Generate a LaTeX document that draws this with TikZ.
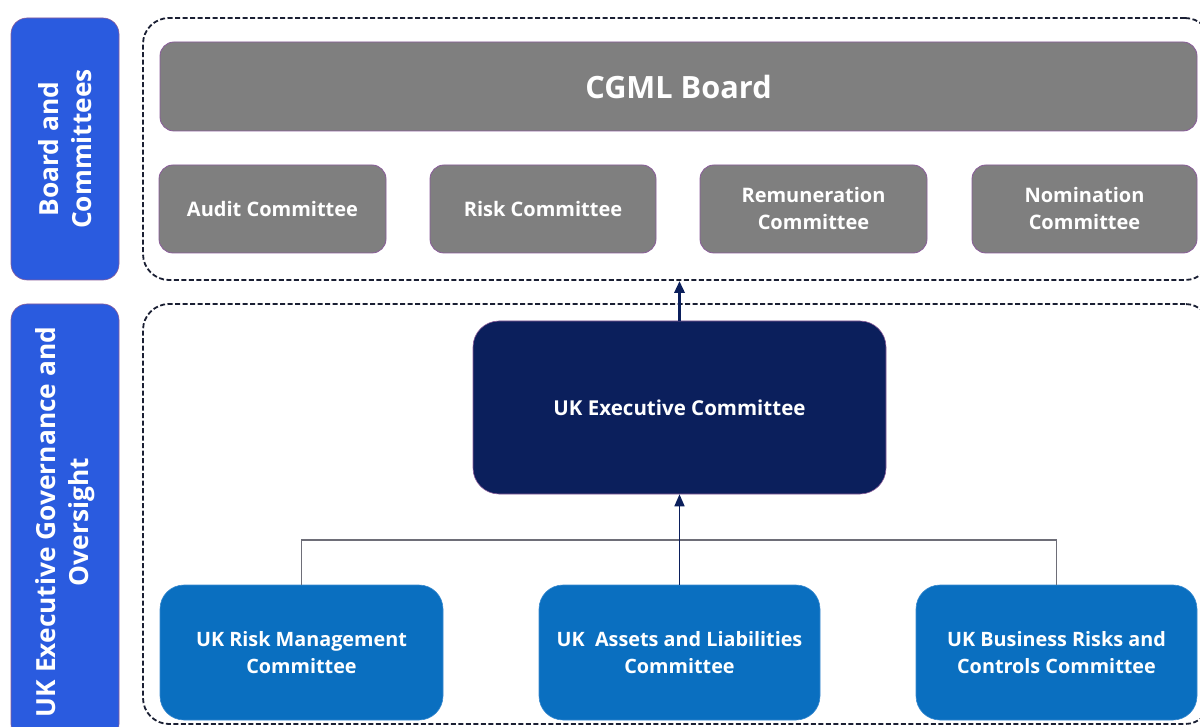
\documentclass[tikz,border=0pt]{standalone}
\usepackage{fontspec}
\setmainfont{Open Sans}
\usetikzlibrary{arrows.meta}
\definecolor{lblue}{HTML}{2A5BDF}
\definecolor{gbox}{HTML}{7F7F7F}
\definecolor{gedge}{HTML}{8A5C9A}
\definecolor{navy}{HTML}{0B1F5C}
\definecolor{mblue}{HTML}{0A6FC0}
\definecolor{bedge}{HTML}{3A8AD0}
\definecolor{conn}{HTML}{6E6E78}
\definecolor{dashc}{HTML}{1A1F33}
\tikzset{
  lbl/.style={draw=gedge, line width=0.6pt, fill=lblue, rounded corners=16pt, text=white, align=center, rotate=90, font=\bfseries\fontsize{26.3}{33}\selectfont, inner sep=0pt},
  dashbox/.style={draw=dashc, dash pattern=on 5pt off 2.5pt, line width=1.8pt, rounded corners=26pt, inner sep=0pt},
  gray box/.style={draw=gedge, line width=0.8pt, fill=gbox, rounded corners=14pt, text=white, align=center, inner sep=0pt, font=\bfseries\fontsize{20}{27}\selectfont},
  exec box/.style={draw=gedge, line width=0.6pt, fill=navy, rounded corners=26pt, text=white, align=center, inner sep=0pt, font=\bfseries\fontsize{20.5}{27}\selectfont},
  blue box/.style={draw=bedge, line width=0.6pt, fill=mblue, rounded corners=24pt, text=white, align=center, inner sep=0pt, font=\bfseries\fontsize{19.8}{27}\selectfont},
  up arrow/.style={-{Triangle[length=12pt,width=10pt]}, draw=navy, line width=3.2pt},
  thin arrow/.style={-{Triangle[length=12pt,width=10pt]}, draw=navy, line width=1.6pt},
  bus line/.style={draw=conn, line width=1.4pt},
}
\begin{document}
\begin{tikzpicture}[x=1pt,y=-1pt]
\useasboundingbox (0,0) rectangle (1200,727);
\clip (0,0) rectangle (1200,727);
\fill[white] (0,0) rectangle (1200,727);
% left labels
\node[lbl, minimum width=262pt, minimum height=108pt] (la) at (65,149) {Board and\\Committees};
\node[lbl, minimum width=436pt, minimum height=108pt] (lb) at (65,522) {UK Executive Governance and\\Oversight};
% dashed groups
\node[dashbox, minimum width=1068pt, minimum height=262pt] (ga) at (677,149) {};
\node[dashbox, minimum width=1068pt, minimum height=420pt] (gb) at (677,514) {};
% board
\node[gray box, minimum width=1037pt, minimum height=89pt, font=\bfseries\fontsize{30.7}{34}\selectfont] (board) at (678.5,86.5) {CGML Board};
\node[gray box, minimum width=227pt, minimum height=88pt] (audit) at (272.5,209) {Audit Committee};
\node[gray box, minimum width=226pt, minimum height=88pt] (risk) at (543,209) {Risk Committee};
\node[gray box, minimum width=227pt, minimum height=88pt] (rem) at (813.5,209) {Remuneration\\Committee};
\node[gray box, minimum width=225pt, minimum height=88pt] (nom) at (1084.5,209) {Nomination\\Committee};
% exec
\node[exec box, minimum width=413pt, minimum height=173pt] (exec) at (679.5,407.5) {UK Executive Committee};
% bottom
\node[blue box, minimum width=283pt, minimum height=135pt] (rm) at (301.5,652.5) {UK Risk Management\\Committee};
\node[blue box, minimum width=281pt, minimum height=135pt] (al) at (679.5,652.5) {UK\ \ Assets and Liabilities\\Committee};
\node[blue box, minimum width=281pt, minimum height=135pt] (br) at (1056.5,652.5) {UK Business Risks and\\Controls Committee};
% connectors
\coordinate (bus) at (679.5,540);
\draw[bus line] (rm.north) |- (bus) -| (br.north);
\draw[thin arrow] (al.north) -- (exec.south);
\draw[up arrow] (exec.north) -- (exec.north |- ga.south);
\end{tikzpicture}
\end{document}
